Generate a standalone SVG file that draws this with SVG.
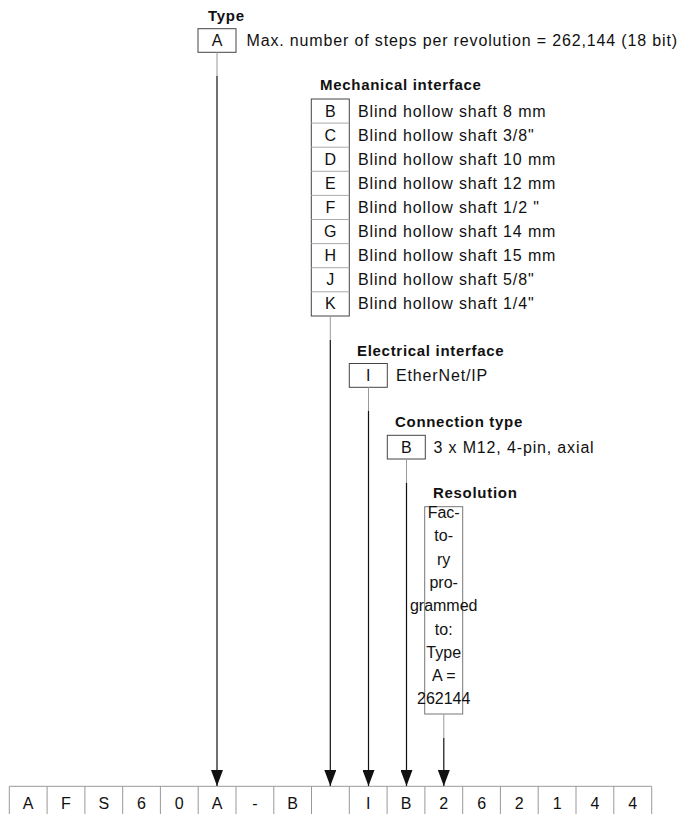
<svg xmlns="http://www.w3.org/2000/svg" width="680" height="814" viewBox="0 0 680 814">
<style>
text{font-family:"Liberation Sans",Arial,sans-serif;fill:#111}
.h{font-size:15px;font-weight:bold;letter-spacing:0.7px}
.t{font-size:16px;letter-spacing:0.85px}
.c{font-size:16px;text-anchor:middle}
.box{fill:none;stroke:#444;stroke-width:1}
.rb{fill:none;stroke:#777;stroke-width:1}
.sep{stroke:#aaa;stroke-width:1}
.stem{stroke:#999;stroke-width:1}
.arr{stroke:#111;stroke-width:1.2;fill:none}
.cell{stroke:#999;stroke-width:1;fill:none}
</style>
<defs>
<marker id="ah" viewBox="0 0 16 12" refX="16" refY="6" markerWidth="16" markerHeight="12" markerUnits="userSpaceOnUse" orient="auto">
<path d="M0,0 L16,6 L0,12 Z" fill="#111"/>
</marker>
</defs>
<g id="type">
<text class="h" x="208" y="21">Type</text>
<rect class="box" x="198" y="28.7" width="38" height="23.6"/>
<text class="c" x="217" y="46.3">A</text>
<text class="t" x="246.5" y="46.3">Max. number of steps per revolution = 262,144 (18 bit)</text>
</g>
<g id="mechanical">
<text class="h" x="320" y="90">Mechanical interface</text>
<rect class="box" x="311.3" y="99" width="38" height="217"/>
<line class="sep" x1="311.3" y1="123.1" x2="349.3" y2="123.1"/>
<line class="sep" x1="311.3" y1="147.2" x2="349.3" y2="147.2"/>
<line class="sep" x1="311.3" y1="171.3" x2="349.3" y2="171.3"/>
<line class="sep" x1="311.3" y1="195.4" x2="349.3" y2="195.4"/>
<line class="sep" x1="311.3" y1="219.5" x2="349.3" y2="219.5"/>
<line class="sep" x1="311.3" y1="243.6" x2="349.3" y2="243.6"/>
<line class="sep" x1="311.3" y1="267.7" x2="349.3" y2="267.7"/>
<line class="sep" x1="311.3" y1="291.8" x2="349.3" y2="291.8"/>
<text class="c" x="330.3" y="116.6">B</text><text class="t" x="358" y="116.6">Blind hollow shaft 8 mm</text>
<text class="c" x="330.3" y="140.7">C</text><text class="t" x="358" y="140.7">Blind hollow shaft 3/8"</text>
<text class="c" x="330.3" y="164.8">D</text><text class="t" x="358" y="164.8">Blind hollow shaft 10 mm</text>
<text class="c" x="330.3" y="188.9">E</text><text class="t" x="358" y="188.9">Blind hollow shaft 12 mm</text>
<text class="c" x="330.3" y="213">F</text><text class="t" x="358" y="213">Blind hollow shaft 1/2 "</text>
<text class="c" x="330.3" y="237.1">G</text><text class="t" x="358" y="237.1">Blind hollow shaft 14 mm</text>
<text class="c" x="330.3" y="261.2">H</text><text class="t" x="358" y="261.2">Blind hollow shaft 15 mm</text>
<text class="c" x="330.3" y="285.3">J</text><text class="t" x="358" y="285.3">Blind hollow shaft 5/8"</text>
<text class="c" x="330.3" y="309.4">K</text><text class="t" x="358" y="309.4">Blind hollow shaft 1/4"</text>
</g>
<g id="electrical">
<text class="h" x="357" y="356">Electrical interface</text>
<rect class="box" x="349.3" y="363.5" width="38" height="23.8"/>
<text class="c" x="368.3" y="381">I</text>
<text class="t" x="396" y="381">EtherNet/IP</text>
</g>
<g id="connection">
<text class="h" x="395" y="427">Connection type</text>
<rect class="box" x="387.3" y="435.3" width="38" height="23.7"/>
<text class="c" x="406.3" y="452.8">B</text>
<text class="t" x="433.5" y="452.8">3 x M12, 4-pin, axial</text>
</g>
<g id="resolution">
<text class="h" x="433" y="498">Resolution</text>
<rect class="rb" x="424.7" y="506.7" width="38" height="207.3"/>
<text class="c" x="443.7" y="518">Fac-</text>
<text class="c" x="443.7" y="541.3">to-</text>
<text class="c" x="443.7" y="564.6">ry</text>
<text class="c" x="443.7" y="587.9">pro-</text>
<text class="c" x="443.7" y="611.2">grammed</text>
<text class="c" x="443.7" y="634.5">to:</text>
<text class="c" x="443.7" y="657.8">Type</text>
<text class="c" x="443.7" y="681.1">A =</text>
<text class="c" x="443.7" y="704.4">262144</text>
</g>
<g id="code">
<line class="cell" x1="9.3" y1="786.3" x2="651.7" y2="786.3"/>
<path class="cell" d="M9.3,786.3V814 M47.1,786.3V814 M84.9,786.3V814 M122.7,786.3V814 M160.4,786.3V814 M198.2,786.3V814 M236,786.3V814 M273.8,786.3V814 M311.5,786.3V814 M349.3,786.3V814 M387.1,786.3V814 M424.9,786.3V814 M462.7,786.3V814 M500.4,786.3V814 M538.2,786.3V814 M576,786.3V814 M613.8,786.3V814 M651.7,786.3V814"/>
<text class="c" x="28.2" y="809">A</text>
<text class="c" x="66" y="809">F</text>
<text class="c" x="103.8" y="809">S</text>
<text class="c" x="141.5" y="809">6</text>
<text class="c" x="179.3" y="809">0</text>
<text class="c" x="217.1" y="809">A</text>
<text class="c" x="254.9" y="809">-</text>
<text class="c" x="292.7" y="809">B</text>
<text class="c" x="368.2" y="809">I</text>
<text class="c" x="406" y="809">B</text>
<text class="c" x="443.8" y="809">2</text>
<text class="c" x="481.6" y="809">6</text>
<text class="c" x="519.3" y="809">2</text>
<text class="c" x="557.1" y="809">1</text>
<text class="c" x="594.9" y="809">4</text>
<text class="c" x="632.7" y="809">4</text>
</g>
<g id="connectors">
<line class="stem" x1="217" y1="52.3" x2="217" y2="76"/>
<line class="arr" x1="217" y1="76" x2="217" y2="786" marker-end="url(#ah)"/>
<line class="stem" x1="330.3" y1="316" x2="330.3" y2="340"/>
<line class="arr" x1="330.3" y1="340" x2="330.3" y2="786" marker-end="url(#ah)"/>
<line class="stem" x1="368.5" y1="387.3" x2="368.5" y2="411"/>
<line class="arr" x1="368.5" y1="411" x2="368.5" y2="786" marker-end="url(#ah)"/>
<line class="stem" x1="406.5" y1="459" x2="406.5" y2="483"/>
<line class="arr" x1="406.5" y1="483" x2="406.5" y2="786" marker-end="url(#ah)"/>
<line class="stem" x1="443.8" y1="714" x2="443.8" y2="738"/>
<line class="arr" x1="443.8" y1="738" x2="443.8" y2="786" marker-end="url(#ah)"/>
</g>
</svg>
